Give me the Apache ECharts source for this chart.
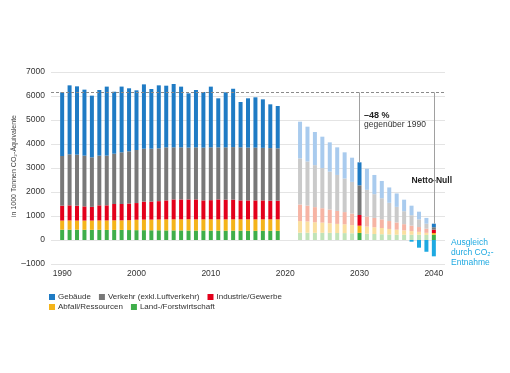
<!DOCTYPE html>
<html>
<head>
<meta charset="utf-8">
<script src="https://cdn.jsdelivr.net/npm/echarts@6/dist/echarts.min.js"></script>
<style>html,body{margin:0;padding:0;background:#fff}#c{width:510px;height:373px}</style>
</head>
<body>
<div id="c"></div>
<script>
// ---- categories ----
const firstYear = 1989, lastYear = 2041;
const labelYears = [1990, 2000, 2010, 2020, 2030, 2040];
const histYears = [1990,1991,1992,1993,1994,1995,1996,1997,1998,1999,2000,2001,2002,2003,2004,2005,2006,2007,2008,2009,2010,2011,2012,2013,2014,2015,2016,2017,2018,2019];
const projYears = [2022,2023,2024,2025,2026,2027,2028,2029,2030,2031,2032,2033,2034,2035,2036,2037,2038,2039,2040];
const solidProjYears = [2030, 2040];

// ---- historical values (1000 t CO2-eq) ----
const gebaeudeHist  = [2653,2874,2847,2750,2570,2736,2876,2583,2737,2626,2486,2680,2486,2624,2570,2640,2530,2261,2390,2317,2530,2043,2293,2432,1890,2053,2095,2021,1823,1763];
const verkehrHist   = [2070,2125,2125,2115,2065,2070,2070,2095,2155,2175,2210,2205,2205,2200,2210,2170,2170,2160,2170,2200,2200,2170,2180,2190,2210,2200,2200,2190,2190,2180];
const industrieHist = [620,630,620,590,570,630,630,680,680,695,695,750,750,765,790,830,830,825,830,790,800,830,820,820,790,790,790,790,780,780];
const abfallHist    = [380,385,380,385,385,390,395,400,400,410,435,440,445,450,460,460,460,470,465,465,470,470,470,470,470,475,475,475,475,475];
const landHist      = [430,430,430,425,425,425,420,420,420,415,410,410,405,405,400,400,400,395,395,395,390,390,390,390,390,385,385,385,385,385];

// ---- projected values ----
const gebaeudeProj  = [1530,1450,1380,1310,1220,1150,1090,1010,958,880,800,720,640,560,480,400,320,240,150];
const verkehrProj   = [1920,1840,1750,1670,1580,1500,1400,1320,1236,1110,990,880,760,650,540,430,320,210,100];
const industrieProj = [690,660,630,600,570,540,510,480,445,420,390,360,330,300,260,230,200,170,140];
const abfallProj    = [485,470,440,425,400,380,365,340,300,300,280,260,230,210,180,150,120,90,70];
const landProj      = [305,302,300,300,299,291,288,280,297,260,250,240,230,220,220,220,220,210,220];

// ---- CO2 removal ----
const entnahmeYears  = [2037, 2038, 2039, 2040];
const entnahmeValues = [-70, -320, -490, -680];

const categories = [];
for (let y = firstYear; y <= lastYear; y++) categories.push(String(y));

const sectors = [
  { name: 'Gebäude', hist: gebaeudeHist, proj: gebaeudeProj, color: '#1f7bc4', faded: '#a9cbee' },
  { name: 'Verkehr (exkl.Luftverkehr)', hist: verkehrHist, proj: verkehrProj, color: '#787878', faded: '#cacaca' },
  { name: 'Industrie/Gewerbe', hist: industrieHist, proj: industrieProj, color: '#e3001b', faded: '#f6b4a4' },
  { name: 'Abfall/Ressourcen', hist: abfallHist, proj: abfallProj, color: '#f4b41a', faded: '#fadf9f' },
  { name: 'Land-/Forstwirtschaft', hist: landHist, proj: landProj, color: '#3fae4a', faded: '#c0e3b8' }
];

function buildData(s) {
  return categories.map(c => {
    const y = +c;
    let i = histYears.indexOf(y);
    if (i >= 0) return s.hist[i];
    i = projYears.indexOf(y);
    if (i >= 0) {
      const solid = solidProjYears.indexOf(y) >= 0;
      return { value: s.proj[i], itemStyle: { color: solid ? s.color : s.faded } };
    }
    return null;
  });
}
function totalAt(y) {
  let i = histYears.indexOf(y), t = 0;
  sectors.forEach(s => { t += (i >= 0 ? s.hist[i] : s.proj[projYears.indexOf(y)]); });
  return t;
}
const ref1990 = totalAt(1990);
const top2030 = totalAt(2030);
const top2040 = totalAt(2040);

const series = sectors.slice().reverse().map(s => ({
  name: s.name, type: 'bar', stack: 'total', barWidth: 4,
  itemStyle: { color: s.color }, data: buildData(s), silent: true
}));
series.push({
  name: 'Ausgleich', type: 'bar', stack: 'total', barWidth: 4, silent: true,
  itemStyle: { color: '#1ea9e1' },
  data: categories.map(c => { const i = entnahmeYears.indexOf(+c); return i >= 0 ? entnahmeValues[i] : null; }),
  markLine: {
    silent: true, symbol: ['none', 'none'], label: { show: false },
    data: [
      { yAxis: ref1990, lineStyle: { color: '#8a8a8a', type: [3, 2], width: 1 } },
      [{ coord: ['2030', ref1990], lineStyle: { color: '#a0a0a0', type: 'solid', width: 1 } }, { coord: ['2030', top2030] }],
      [{ coord: ['2040', ref1990], lineStyle: { color: '#a0a0a0', type: 'solid', width: 1 } }, { coord: ['2040', top2040] }]
    ]
  }
});

const FONT = 'Liberation Sans, Arial, sans-serif';
const chart = echarts.init(document.getElementById('c'), null, { renderer: 'canvas' });
chart.setOption({
  animation: false,
  textStyle: { fontFamily: FONT },
  grid: { left: 51, right: 65, top: 72, bottom: 109, containLabel: false, outerBoundsMode: 'none' },
  xAxis: {
    type: 'category', data: categories, boundaryGap: true,
    axisLine: { show: false }, axisTick: { show: false }, splitLine: { show: false },
    axisLabel: {
      interval: (idx, val) => labelYears.indexOf(+val) >= 0,
      color: '#333', fontSize: 8.5, margin: 5, fontFamily: FONT
    }
  },
  yAxis: {
    type: 'value', min: -1000, max: 7000, interval: 1000,
    axisLine: { show: false }, axisTick: { show: false },
    axisLabel: { color: '#333', fontSize: 8.5, margin: 6, fontFamily: FONT,
      formatter: v => String(v).replace('-', '–') },
    splitLine: { lineStyle: { color: '#e4e4e4', width: 1 } }
  },
  legend: [
    { left: 44, top: 288, itemWidth: 6, itemHeight: 6, itemGap: 8, icon: 'rect',
      textStyle: { fontSize: 8, color: '#333', fontFamily: FONT, padding: [0,0,0,-2] },
      data: ['Gebäude', 'Verkehr (exkl.Luftverkehr)', 'Industrie/Gewerbe'], selectedMode: false },
    { left: 44, top: 298, itemWidth: 6, itemHeight: 6, itemGap: 8, icon: 'rect',
      textStyle: { fontSize: 8, color: '#333', fontFamily: FONT, padding: [0,0,0,-2] },
      data: ['Abfall/Ressourcen', 'Land-/Forstwirtschaft'], selectedMode: false }
  ],
  graphic: [
    { type: 'text', x: 14, y: 166, rotation: Math.PI / 2,
      style: { text: 'in 1000 Tonnen CO₂-Äquivalente', font: '7px ' + FONT, fill: '#444', align: 'center', verticalAlign: 'middle' } },
    { type: 'text', left: 364, top: 111, style: { text: '–48 %', font: 'bold 9px ' + FONT, fill: '#222' } },
    { type: 'text', left: 364, top: 120, style: { text: 'gegenüber 1990', font: '8.5px ' + FONT, fill: '#333' } },
    { type: 'text', right: 58, top: 176, style: { text: 'Netto-Null', font: 'bold 8.5px ' + FONT, fill: '#222' } },
    { type: 'text', left: 451, top: 238, style: { text: 'Ausgleich\ndurch CO₂-\nEntnahme', font: '8.5px ' + FONT, fill: '#1ea9e1', lineHeight: 10 } }
  ],
  series: series
});
</script>
</body>
</html>
